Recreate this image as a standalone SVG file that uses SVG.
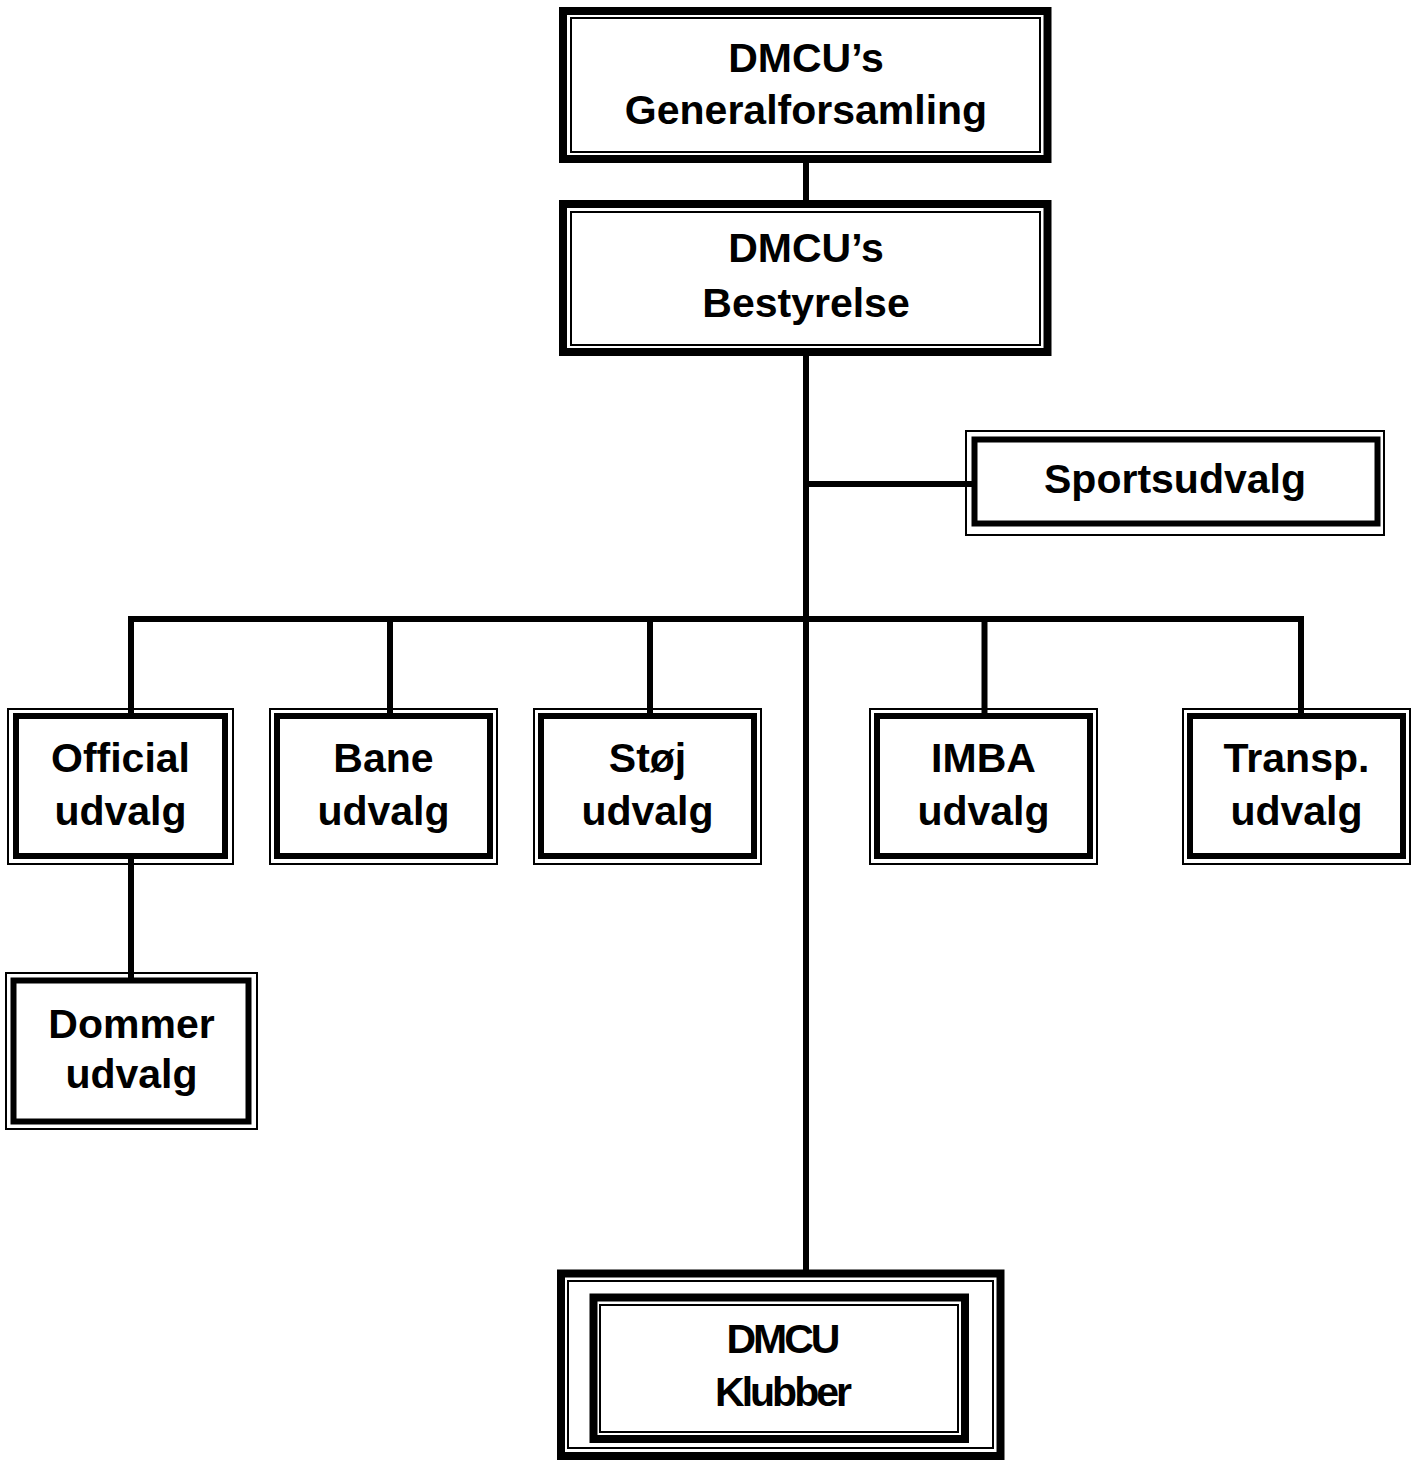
<svg xmlns="http://www.w3.org/2000/svg" width="1411" height="1461" viewBox="0 0 1411 1461">
<style>
.thin{fill:none;stroke:#000;stroke-width:2}
.thick{fill:none;stroke:#000;stroke-width:8}
.mid{fill:none;stroke:#000;stroke-width:6}
.bg{fill:#fff;stroke:none}
.conn{fill:none;stroke:#000;stroke-width:6;stroke-linejoin:miter}
text{font-family:"Liberation Sans",Arial,sans-serif;font-weight:bold;font-size:41px;text-anchor:middle;fill:#000}
.cond{letter-spacing:-3px}
</style>
<rect x="0" y="0" width="1411" height="1461" fill="#fff"/>
<g id="connectors">
<path class="conn" d="M806 159 V204"/>
<path class="conn" d="M806 352 V1273"/>
<path class="conn" d="M806 484 H974"/>
<path class="conn" d="M131 716 V619 H1301 V716"/>
<path class="conn" d="M390 619 V716"/>
<path class="conn" d="M650 619 V716"/>
<path class="conn" d="M984.5 619 V716"/>
<path class="conn" d="M131 856 V980"/>
</g>
<g id="generalforsamling">
<rect class="thick" x="563" y="11" width="484.5" height="148"/>
<rect class="thin" x="571" y="18" width="469" height="134"/>
<text x="806" y="72">DMCU’s</text>
<text x="806" y="124">Generalforsamling</text>
</g>
<g id="bestyrelse">
<rect class="thick" x="563" y="204" width="484.5" height="148"/>
<rect class="thin" x="571" y="212" width="469" height="133"/>
<text x="806" y="262">DMCU’s</text>
<text x="806" y="317">Bestyrelse</text>
</g>
<g id="sportsudvalg">
<rect class="thin" x="966" y="431" width="418" height="104"/>
<rect class="mid" x="974.5" y="439.5" width="403" height="84"/>
<text x="1175" y="493">Sportsudvalg</text>
</g>
<g id="official">
<rect class="thin" x="8" y="709" width="225" height="155"/>
<rect class="mid" x="16" y="716" width="209" height="140"/>
<text x="120.5" y="772">Official</text>
<text x="120.5" y="825">udvalg</text>
</g>
<g id="bane">
<rect class="thin" x="270" y="709" width="227" height="155"/>
<rect class="mid" x="277" y="716" width="213" height="140"/>
<text x="383.5" y="772">Bane</text>
<text x="383.5" y="825">udvalg</text>
</g>
<g id="stoej">
<rect class="thin" x="534" y="709" width="227" height="155"/>
<rect class="mid" x="541" y="716" width="213" height="140"/>
<text x="647.5" y="772">Støj</text>
<text x="647.5" y="825">udvalg</text>
</g>
<g id="imba">
<rect class="thin" x="870" y="709" width="227" height="155"/>
<rect class="mid" x="877" y="716" width="213" height="140"/>
<text x="983.5" y="772">IMBA</text>
<text x="983.5" y="825">udvalg</text>
</g>
<g id="transp">
<rect class="thin" x="1183" y="709" width="227" height="155"/>
<rect class="mid" x="1190" y="716" width="213" height="140"/>
<text x="1296.5" y="772">Transp.</text>
<text x="1296.5" y="825">udvalg</text>
</g>
<g id="dommer">
<rect class="thin" x="6" y="973" width="251" height="156"/>
<rect class="mid" x="13.5" y="980.5" width="235" height="141"/>
<text x="131.5" y="1038">Dommer</text>
<text x="131.5" y="1088">udvalg</text>
</g>
<g id="klubber">
<rect class="thick" x="561" y="1273.5" width="439.5" height="182.5"/>
<rect class="thin" x="568" y="1281" width="425" height="167"/>
<rect class="thick" x="593.5" y="1297.5" width="371.5" height="141.5"/>
<rect class="thin" x="600" y="1305" width="358" height="127"/>
<text class="cond" x="782" y="1353">DMCU</text>
<text class="cond" x="782" y="1406">Klubber</text>
</g>
</svg>
